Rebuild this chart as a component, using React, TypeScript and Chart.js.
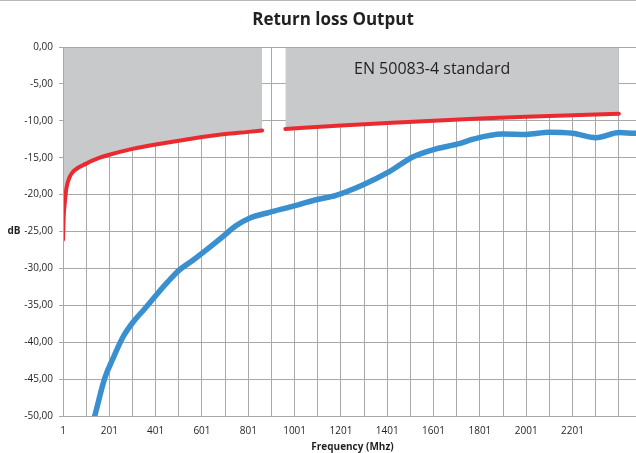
import React, { useEffect, useRef } from "react";
import { Chart, registerables } from "chart.js";

Chart.register(...registerables);

const chartTitle = "Return loss Output";
const xAxisTitle = "Frequency (Mhz)";
const yAxisTitle = "dB";
const standardLabel = "EN 50083-4 standard";

const xGridValues = [1, 101, 201, 301, 401, 501, 601, 701, 801, 901, 1001, 1101, 1201, 1301, 1401, 1501, 1601, 1701, 1801, 1901, 2001, 2101, 2201, 2301, 2401, 2501];
const xLabeledValues = [1, 201, 401, 601, 801, 1001, 1201, 1401, 1601, 1801, 2001, 2201];
const xMin = 1;
const xMax = 2501;
const yMin = -50;
const yMax = 0;
const yStep = 5;

// EN 50083-4 limit (two segments)
const standardLowFreq = [1, 4, 9, 16, 30, 51, 101, 151, 201, 301, 401, 501, 601, 701, 801, 861];
const standardLowDb = [-26.1, -23.0, -21.0, -19.1, -17.6, -16.7, -15.8, -15.1, -14.6, -13.8, -13.2, -12.7, -12.2, -11.8, -11.5, -11.3];
const standardHighFreq = [961, 1201, 1401, 1601, 1801, 2001, 2201, 2401];
const standardHighDb = [-11.1, -10.65, -10.3, -10.0, -9.7, -9.45, -9.25, -9.05];

// Measured return loss
const measuredFreq = [125, 138, 181, 217, 260, 303, 353, 404, 454, 504, 562, 620, 691, 749, 806, 893, 979, 1094, 1180, 1295, 1410, 1511, 1612, 1712, 1770, 1899, 2000, 2101, 2202, 2302, 2403, 2470, 2501];
const measuredDb = [-51.5, -50.0, -44.9, -42.2, -39.3, -37.3, -35.5, -33.6, -31.8, -30.2, -28.9, -27.5, -25.7, -24.2, -23.2, -22.4, -21.7, -20.7, -20.1, -18.7, -16.9, -14.9, -13.8, -13.1, -12.5, -11.8, -11.85, -11.55, -11.7, -12.3, -11.6, -11.7, -11.7];

const standardLabelPos = { freq: 1595, db: -3 };

const GRID = "#a9a9a9";
const TEXT = "#231f20";
const FILL = "#c8c9cb";
const RED = "#ea2a2f";
const BLUE = "#3a8fcf";

const zip = (xs: number[], ys: number[]) => xs.map((x, i) => ({ x, y: ys[i] }));

const extraText = {
  id: "extraText",
  afterDatasetsDraw(chart: any) {
    const { ctx, chartArea, scales, width } = chart;
    ctx.save();
    ctx.fillStyle = TEXT;
    ctx.textAlign = "center";
    ctx.textBaseline = "middle";
    ctx.font = "bold 17px 'Open Sans', sans-serif";
    ctx.fillText(chartTitle, width / 2, chartArea.top - 27);
    ctx.font = "16px 'Open Sans', sans-serif";
    ctx.fillText(
      standardLabel,
      scales.x.getPixelForValue(standardLabelPos.freq),
      scales.y.getPixelForValue(standardLabelPos.db)
    );
    ctx.font = "bold 10px 'Open Sans', sans-serif";
    ctx.fillText(yAxisTitle, chartArea.left - 49, (chartArea.top + chartArea.bottom) / 2);
    ctx.restore();
  },
};

export default function App() {
  const ref = useRef<HTMLCanvasElement | null>(null);

  useEffect(() => {
    if (!ref.current) return;
    Chart.defaults.font.family = "'Open Sans', sans-serif";
    Chart.defaults.color = TEXT;
    const chart = new Chart(ref.current, {
      type: "line",
      data: {
        datasets: [
          {
            data: zip(standardLowFreq, standardLowDb),
            borderColor: RED,
            borderWidth: 4,
            backgroundColor: FILL,
            fill: { value: -0.15 },
            pointRadius: 0,
            cubicInterpolationMode: "monotone",
            borderCapStyle: "round",
          },
          {
            data: zip(standardHighFreq, standardHighDb),
            borderColor: RED,
            borderWidth: 4,
            backgroundColor: FILL,
            fill: { value: -0.15 },
            pointRadius: 0,
            cubicInterpolationMode: "monotone",
            borderCapStyle: "round",
          },
          {
            data: zip(measuredFreq, measuredDb),
            borderColor: BLUE,
            borderWidth: 5.5,
            fill: false,
            pointRadius: 0,
            cubicInterpolationMode: "monotone",
          },
        ],
      },
      options: {
        animation: false,
        responsive: false,
        devicePixelRatio: 1,
        layout: { padding: { left: 0, right: 24, top: 46, bottom: 0 } },
        plugins: {
          legend: { display: false },
          tooltip: { enabled: false },
          title: { display: false },
        },
        scales: {
          x: {
            type: "linear",
            min: xMin,
            max: xMax,
            afterBuildTicks: (scale: any) => {
              scale.ticks = xGridValues.map((v) => ({ value: v }));
            },
            afterFit: (scale: any) => {
              scale.height = 37;
            },
            ticks: {
              autoSkip: false,
              maxRotation: 0,
              padding: 9,
              color: TEXT,
              font: { size: 10 },
              callback: (v: any) => (xLabeledValues.includes(Number(v)) ? String(v) : ""),
            },
            grid: { color: GRID, lineWidth: 1, drawTicks: false },
            border: { color: GRID, width: 1 },
            title: {
              display: true,
              text: xAxisTitle,
              color: TEXT,
              font: { size: 10, weight: "bold" },
              padding: { top: 3, bottom: 0 },
            },
          },
          y: {
            min: yMin,
            max: yMax,
            afterFit: (scale: any) => {
              scale.width = 63;
            },
            ticks: {
              stepSize: yStep,
              padding: 6,
              color: TEXT,
              font: { size: 10 },
              callback: (v: any) => Number(v).toFixed(2).replace(".", ","),
            },
            grid: { color: GRID, lineWidth: 1, tickLength: 4 },
            border: { color: GRID, width: 1, z: 1 },
          },
        },
      },
      plugins: [extraText],
    });
    return () => chart.destroy();
  }, []);

  return (
    <div
      style={{
        position: "absolute",
        left: 0,
        top: 0,
        width: 636,
        height: 453,
        overflow: "hidden",
        borderTop: "1px solid #b8b8b8",
        boxSizing: "border-box",
        background: "#fff",
      }}
    >
      <canvas ref={ref} width={666} height={452} style={{ display: "block", width: 666, height: 452 }} />
    </div>
  );
}
